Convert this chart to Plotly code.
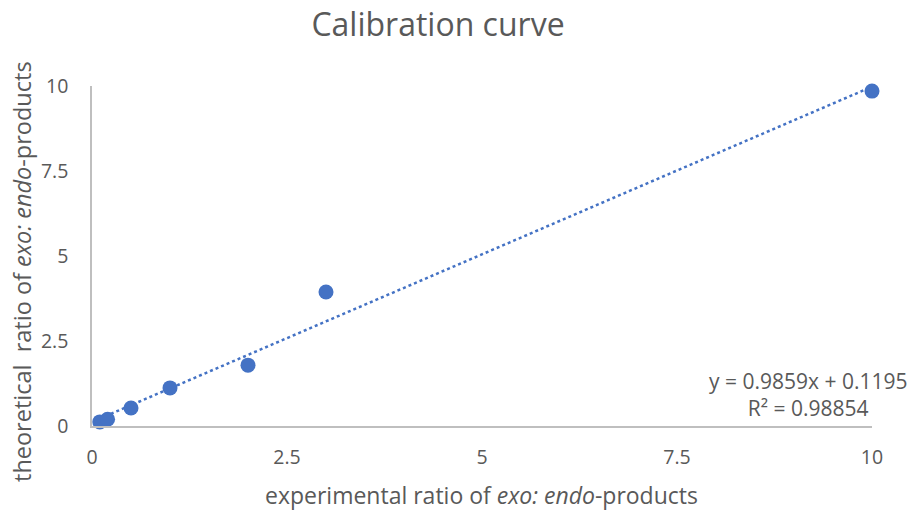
import plotly.graph_objects as go

x_exp = [0.1, 0.2, 0.5, 1, 2, 3, 10]
y_theo = [0.12, 0.2, 0.53, 1.12, 1.79, 3.94, 9.85]
slope = 0.9859
intercept = 0.1195
r2 = 0.98854
x_ticks = [0, 2.5, 5, 7.5, 10]
x_ticklabels = ["0", "2.5", "5", "7.5", "10"]

FONT = "Open Sans"
GRAY = "#595959"
BLUE = "#4472C4"

x_fit = [min(x_exp), max(x_exp)]
y_fit = [slope * v + intercept for v in x_fit]

fig = go.Figure()
fig.add_trace(go.Scatter(x=x_fit, y=y_fit, mode="lines",
                         line=dict(color=BLUE, width=2.5, dash="dot"),
                         hoverinfo="skip", showlegend=False, cliponaxis=False))
fig.add_trace(go.Scatter(x=x_exp, y=y_theo, mode="markers",
                         marker=dict(color=BLUE, size=15),
                         showlegend=False, cliponaxis=False))

fig.update_layout(
    width=912, height=512,
    margin=dict(l=92, r=40, t=86, b=86),
    paper_bgcolor="white", plot_bgcolor="white",
    font=dict(family=FONT, color=GRAY, size=19.5),
    title=dict(text="Calibration curve", x=438 / 912, xanchor="center", y=1 - 25 / 512, yanchor="middle",
               xref="container", yref="container",
               font=dict(size=32, color=GRAY, family=FONT)),
    xaxis=dict(range=[0, 10], tickvals=x_ticks, ticktext=x_ticklabels,
               showgrid=False, zeroline=False, showline=True, linecolor="#BFBFBF", linewidth=1.5,
               ticks="", ticklabelstandoff=13),
    yaxis=dict(range=[0, 10], tickvals=x_ticks, ticktext=x_ticklabels,
               showgrid=False, zeroline=False, showline=True, linecolor="#BFBFBF", linewidth=1.5,
               ticks="", ticklabelstandoff=18),
)

fig.add_annotation(xref="paper", yref="paper", x=(481 - 92) / 780, y=-69 / 340,
                   xanchor="center", yanchor="middle", showarrow=False,
                   text="experimental ratio of <i>exo: endo</i>-products",
                   font=dict(size=23, color=GRAY, family=FONT))
fig.add_annotation(xref="paper", yref="paper", x=-70 / 780, y=(426 - 272) / 340,
                   xanchor="center", yanchor="middle", showarrow=False, textangle=-90,
                   text="theoretical&nbsp; ratio of <i>exo: endo</i>-products",
                   font=dict(size=23.5, color=GRAY, family=FONT))

fig.add_annotation(xref="paper", yref="paper", x=(909 - 92) / 780, y=(426 - 394) / 340,
                   xanchor="right", yanchor="middle",
                   text=f"y = {slope}x + {intercept}<br>R² = {r2}", align="center",
                   showarrow=False, font=dict(size=21, color=GRAY, family=FONT))

fig.write_html("out.html")
